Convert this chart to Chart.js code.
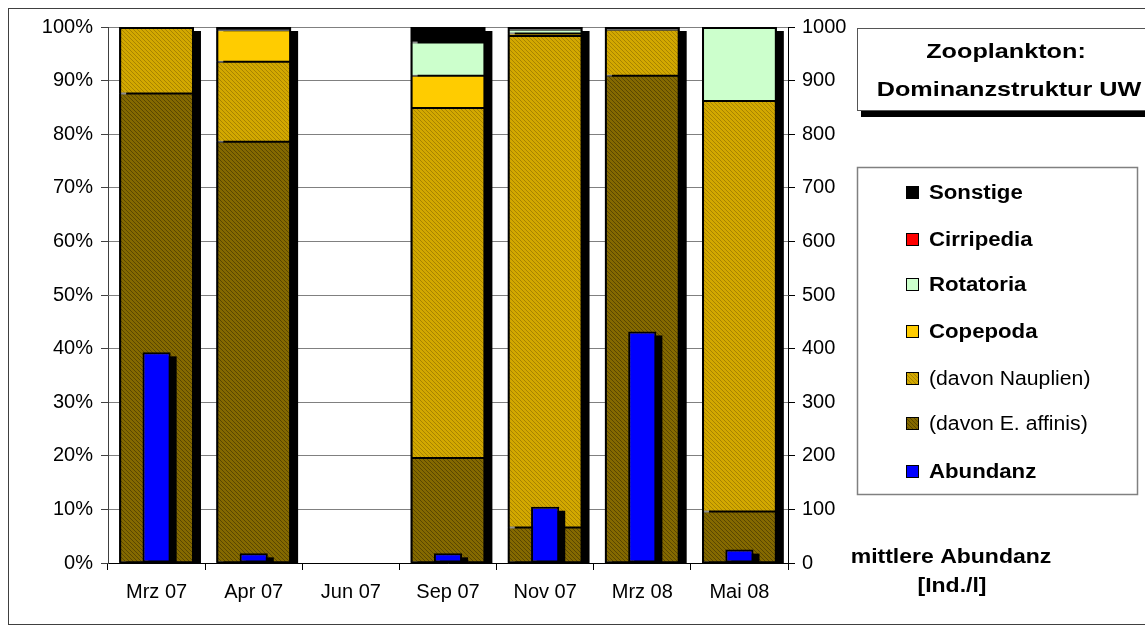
<!DOCTYPE html>
<html>
<head>
<meta charset="utf-8">
<title>Zooplankton: Dominanzstruktur UW</title>
<script src="https://cdn.jsdelivr.net/npm/chart.js@4.4.1/dist/chart.umd.min.js"></script>
<style>
  html, body { margin: 0; padding: 0; background: #fff; }
  #wrap { width: 1145px; height: 632px; }
</style>
</head>
<body>
<div id="wrap"><canvas id="c" width="1145" height="632"></canvas></div>
<script>
// Sampling dates
const categories = ['Mrz 07', 'Apr 07', 'Jun 07', 'Sep 07', 'Nov 07', 'Mrz 08', 'Mai 08'];

// Share of each group in %, stacked bottom to top
const eAffinis   = [87.6, 78.6, 0, 19.6,  6.6, 90.9,  9.6];
const nauplien   = [12.4, 14.9, 0, 65.3, 91.7,  8.6, 76.6];
const copepoda   = [0,     5.9, 0,  6.0,  0.5,  0,    0];
const rotatoria  = [0,     0,   0,  6.2,  0.7,  0,   13.8];
const cirripedia = [0,     0,   0,  0,    0,    0,    0];
const sonstige   = [0,     0.6, 0,  2.9,  0.5,  0.5,  0];

// Mean abundance [Ind./l], right axis
const abundanz = [393, 18, null, 18, 105, 432, 25];

// Axis ticks
const pctTicks = [0, 10, 20, 30, 40, 50, 60, 70, 80, 90, 100];
const abuTicks = [0, 100, 200, 300, 400, 500, 600, 700, 800, 900, 1000];

const FONT = '"Liberation Sans", Arial, Helvetica, sans-serif';
const canvas = document.getElementById('c');
const ctx0 = canvas.getContext('2d');

// fine diagonal hatch used for the copepod sub-groups
function hatch(base, line) {
  const t = document.createElement('canvas');
  t.width = 4; t.height = 4;
  const g = t.getContext('2d');
  g.fillStyle = base; g.fillRect(0, 0, 4, 4);
  g.fillStyle = line;
  for (let i = 0; i < 4; i++) g.fillRect(i, i, 1, 1);
  return ctx0.createPattern(t, 'repeat');
}
const affinisFill  = hatch('#846900', '#5a4700');
const nauplienFill = hatch('#d2a800', '#a88400');

function seg(label, data, fill, bold) {
  return {
    label, data, yAxisID: 'y', backgroundColor: fill, borderColor: '#000',
    borderWidth: 1, borderSkipped: false, boldLabel: bold,
    barPercentage: 0.77, categoryPercentage: 1
  };
}

const datasets = [
  {
    label: 'Abundanz', data: abundanz, yAxisID: 'y2', backgroundColor: '#0000ff',
    borderColor: '#000', borderWidth: 2, borderSkipped: false, boldLabel: true,
    barPercentage: 0.29, categoryPercentage: 1
  },
  seg('(davon E. affinis)', eAffinis, affinisFill, false),
  seg('(davon Nauplien)', nauplien, nauplienFill, false),
  seg('Copepoda', copepoda, '#ffcc00', true),
  seg('Rotatoria', rotatoria, '#ccffcc', true),
  seg('Cirripedia', cirripedia, '#ff0000', true),
  seg('Sonstige', sonstige, '#000000', true)
];

function hasValue(v) { return v !== null && v !== undefined && v !== 0; }

// outer bounds of each stacked column, from the bar elements
function stackBounds(chart) {
  const metas = chart.getSortedVisibleDatasetMetas().filter(m => m.yAxisID === 'y');
  return categories.map((_, i) => {
    let top = Infinity, bottom = -Infinity, left = 0, right = 0, any = false;
    metas.forEach(m => {
      if (!hasValue(chart.data.datasets[m.index].data[i])) return;
      const p = m.data[i].getProps(['x', 'y', 'base', 'width'], true);
      top = Math.min(top, p.y, p.base);
      bottom = Math.max(bottom, p.y, p.base);
      left = p.x - p.width / 2; right = p.x + p.width / 2;
      any = true;
    });
    return any ? { top, bottom, left, right } : null;
  });
}

// black drop shadows behind the columns and a firm outline around each stack
const shadowPlugin = {
  id: 'barShadows',
  beforeDatasetsDraw(chart) {
    const ctx = chart.ctx, a = chart.chartArea;
    ctx.save();
    ctx.beginPath();
    ctx.rect(a.left, 0, a.right - a.left + 20, a.bottom);
    ctx.clip();
    ctx.fillStyle = '#000';
    stackBounds(chart).forEach(b => {
      if (b) ctx.fillRect(b.left + 7, b.top + 4, b.right - b.left, b.bottom - b.top);
    });
    ctx.restore();
  },
  beforeDatasetDraw(chart, args) {
    if (args.meta.yAxisID !== 'y2') return;
    const ctx = chart.ctx, a = chart.chartArea;
    ctx.save();
    ctx.beginPath();
    ctx.rect(a.left, 0, a.right - a.left + 20, a.bottom);
    ctx.clip();
    ctx.fillStyle = '#000';
    args.meta.data.forEach((el, i) => {
      if (!hasValue(chart.data.datasets[args.index].data[i])) return;
      const p = el.getProps(['x', 'y', 'base', 'width'], true);
      ctx.fillRect(p.x - p.width / 2 + 6, p.y + 4, p.width, p.base - p.y);
    });
    ctx.restore();
  },
  afterDatasetsDraw(chart) {
    const ctx = chart.ctx;
    ctx.save();
    ctx.strokeStyle = '#000';
    ctx.lineWidth = 2;
    stackBounds(chart).forEach(b => {
      if (b) ctx.strokeRect(b.left + 1, b.top + 1, b.right - b.left - 2, b.bottom - b.top - 1);
    });
    ctx.restore();
  }
};

// text drawn slightly widened, anchored at x according to align
function wideText(ctx, text, x, y, font, sx, align) {
  ctx.save();
  ctx.font = font;
  ctx.textAlign = 'left';
  ctx.textBaseline = 'alphabetic';
  const w = ctx.measureText(text).width * sx;
  let left = x;
  if (align === 'center') left = x - w / 2;
  ctx.translate(left, y);
  ctx.scale(sx, 1);
  ctx.fillText(text, 0, 0);
  ctx.restore();
}

// frame, title box, legend box and right axis caption
const decorPlugin = {
  id: 'decor',
  afterDraw(chart) {
    const ctx = chart.ctx;
    ctx.save();

    // outer frame
    ctx.strokeStyle = '#404040';
    ctx.lineWidth = 1;
    ctx.strokeRect(8.5, 8.5, 1200, 616);

    // title box with shadow
    ctx.fillStyle = '#000';
    ctx.fillRect(861, 111, 300, 6);
    ctx.fillStyle = '#fff';
    ctx.fillRect(857.5, 28.5, 300, 82);
    ctx.strokeStyle = '#555';
    ctx.strokeRect(857.5, 28.5, 300, 82);
    ctx.fillStyle = '#000';
    const titleFont = 'bold 21px ' + FONT;
    wideText(ctx, 'Zooplankton:', 1006, 58, titleFont, 1.2, 'center');
    wideText(ctx, 'Dominanzstruktur UW', 1009, 96, titleFont, 1.2, 'center');

    // legend box
    ctx.fillStyle = '#fff';
    ctx.fillRect(857.5, 167.5, 280, 327);
    ctx.strokeStyle = '#808080';
    ctx.lineWidth = 1.5;
    ctx.strokeRect(857.5, 167.5, 280, 327);
    ctx.lineWidth = 1;

    const order = [6, 5, 4, 3, 2, 1, 0];
    const rowY = [192, 239, 284, 331, 378, 423, 471];
    order.forEach((di, k) => {
      const ds = chart.data.datasets[di];
      const cy = rowY[k];
      ctx.fillStyle = '#000';
      ctx.fillRect(906, cy - 6, 13, 13);
      ctx.fillStyle = ds.backgroundColor;
      ctx.fillRect(907, cy - 5, 11, 11);
      ctx.fillStyle = '#000';
      if (ds.boldLabel) {
        wideText(ctx, ds.label, 929, cy + 7, 'bold 20px ' + FONT, 1.11, 'left');
      } else {
        wideText(ctx, ds.label, 929, cy + 7, '20px ' + FONT, 1.06, 'left');
      }
    });

    // caption of the right axis
    ctx.fillStyle = '#000';
    wideText(ctx, 'mittlere Abundanz', 951, 563, 'bold 20px ' + FONT, 1.15, 'center');
    wideText(ctx, '[Ind./l]', 952, 592, 'bold 20px ' + FONT, 1.15, 'center');
    ctx.restore();
  }
};

const tickFont = { family: FONT, size: 20 };

new Chart(canvas, {
  type: 'bar',
  data: { labels: categories, datasets },
  options: {
    responsive: false,
    animation: false,
    devicePixelRatio: 1,
    layout: { padding: { top: 27, left: 0, right: 0, bottom: 0 } },
    datasets: { bar: { grouped: false } },
    plugins: { legend: { display: false }, tooltip: { enabled: false } },
    scales: {
      x: {
        stacked: true,
        grid: { drawOnChartArea: false, offset: true, tickLength: 7, color: '#000' },
        border: { color: '#000', width: 1 },
        ticks: { font: tickFont, color: '#000', padding: 10, maxRotation: 0 },
        afterFit(s) { s.height = 69; }
      },
      y: {
        stacked: true, position: 'left', min: 0, max: 100,
        afterBuildTicks(s) { s.ticks = pctTicks.map(v => ({ value: v })); },
        grid: { color: '#808080', tickColor: '#404040', tickLength: 7, lineWidth: 1 },
        border: { color: '#404040', width: 1 },
        ticks: { font: tickFont, color: '#000', padding: 8, callback: v => v + '%' },
        afterFit(s) { s.width = 108; }
      },
      y2: {
        stacked: false, position: 'right', min: 0, max: 1000,
        afterBuildTicks(s) { s.ticks = abuTicks.map(v => ({ value: v })); },
        grid: { drawOnChartArea: false, tickColor: '#000', tickLength: 7 },
        border: { color: '#000', width: 1 },
        ticks: { font: tickFont, color: '#000', padding: 7, callback: v => String(v) },
        afterFit(s) { s.width = 357; }
      }
    }
  },
  plugins: [shadowPlugin, decorPlugin]
});
</script>
</body>
</html>
